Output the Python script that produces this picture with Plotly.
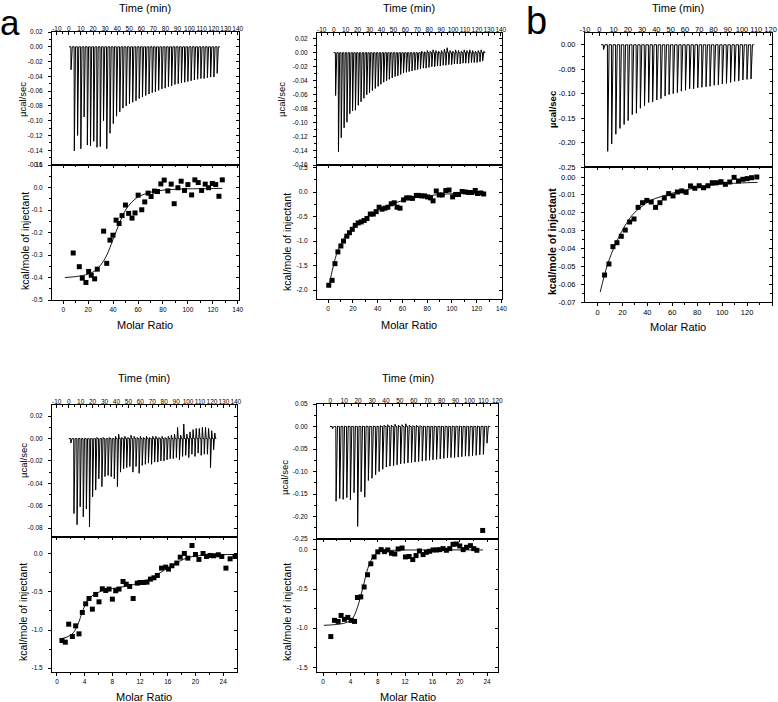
import plotly.graph_objects as go

# ======================= DATA =======================
# ---- panel a1 (top-left) ----
a1_time = [1.6, 4.3, 7.0, 9.7, 12.4, 15.1, 17.7, 20.4, 23.1, 25.8, 28.5, 31.2, 33.9, 36.6, 39.3, 42.0,
           44.6, 47.3, 50.0, 52.7, 55.4, 58.1, 60.8, 63.5, 66.2, 68.9, 71.5, 74.2, 76.9, 79.6, 82.3, 85.0,
           87.7, 90.4, 93.1, 95.8, 98.4, 101.1, 103.8, 106.5, 109.2, 111.9, 114.6, 117.3, 120.0, 122.7]
a1_peak = [-0.031, -0.141, -0.120, -0.138, -0.095, -0.133, -0.134, -0.128, -0.136, -0.135, -0.100, -0.138,
           -0.117, -0.104, -0.094, -0.088, -0.083, -0.080, -0.077, -0.075, -0.073, -0.070, -0.068, -0.066,
           -0.064, -0.062, -0.061, -0.059, -0.057, -0.056, -0.054, -0.053, -0.051, -0.050, -0.049, -0.048,
           -0.047, -0.046, -0.045, -0.044, -0.043, -0.043, -0.042, -0.041, -0.041, -0.036]
a1_ratio = [8.0, 12.9, 15.3, 18.2, 20.4, 22.5, 25.2, 27.3, 32.4, 34.9, 37.5, 39.9, 42.4, 44.8, 47.2, 49.9,
            52.5, 55.2, 57.6, 60.1, 63.0, 65.4, 68.1, 70.5, 73.2, 75.6, 78.3, 81.0, 83.9, 86.6, 89.0, 92.0,
            94.6, 97.3, 100.0, 103.0, 105.6, 108.3, 111.0, 113.9, 116.6, 119.6, 122.3, 124.9, 127.6]
a1_heat = [-0.291, -0.352, -0.403, -0.422, -0.373, -0.390, -0.406, -0.363, -0.194, -0.337, -0.234, -0.212,
           -0.145, -0.160, -0.125, -0.078, -0.115, -0.136, -0.113, -0.034, -0.099, -0.064, -0.025, -0.040,
           -0.016, -0.018, 0.016, 0.033, -0.015, 0.015, -0.072, -0.001, 0.028, -0.013, 0.013, -0.033,
           0.034, 0.022, -0.013, 0.015, -0.001, 0.018, 0.013, -0.039, 0.034]
a1_fit_ratio = [1.3, 10, 20, 25, 30, 35, 40, 45, 50, 55, 60, 65, 70, 80, 90, 100, 115, 127.6]
a1_fit_heat = [-0.400, -0.396, -0.385, -0.372, -0.345, -0.300, -0.230, -0.160, -0.100, -0.065, -0.042,
               -0.030, -0.021, -0.012, -0.008, -0.006, -0.005, -0.004]

# ---- panel a2 (top-middle) ----
a2_time = [1.4, 3.8, 6.1, 8.5, 10.9, 13.3, 15.6, 18.0, 20.4, 22.7, 25.1, 27.5, 29.8, 32.2, 34.6, 37.0,
           39.3, 41.7, 44.1, 46.4, 48.8, 51.2, 53.5, 55.9, 58.3, 60.7, 63.0, 65.4, 67.8, 70.1, 72.5, 74.9,
           77.2, 79.6, 82.0, 84.4, 86.7, 89.1, 91.5, 93.8, 96.2, 98.6, 100.9, 103.3, 105.7, 108.1, 110.4,
           112.8, 115.2, 117.5, 119.9, 122.3, 124.6]
a2_peak = [-0.061, -0.141, -0.121, -0.107, -0.099, -0.087, -0.083, -0.082, -0.075, -0.070, -0.065, -0.060,
           -0.057, -0.054, -0.051, -0.048, -0.045, -0.042, -0.040, -0.038, -0.036, -0.034, -0.033, -0.031,
           -0.029, -0.028, -0.027, -0.026, -0.025, -0.024, -0.023, -0.022, -0.022, -0.021, -0.020, -0.020,
           -0.019, -0.019, -0.018, -0.018, -0.017, -0.017, -0.016, -0.016, -0.016, -0.015, -0.015, -0.015,
           -0.014, -0.014, -0.014, -0.013, -0.012]
a2_rise = [0.0, 0.0, 0.0, 0.0, 0.0, 0.0, 0.0, 0.0, 0.0, 0.0, 0.0, 0.0, 0.0, 0.0, 0.0, 0.0, 0.0, 0.0, 0.0,
           0.0, 0.0, 0.0, 0.0, 0.0, 0.0, 0.0, 0.0, 0.0, 0.0, 0.0,
           0.002, 0.001, 0.003, 0.002, 0.004, 0.003, 0.002, 0.003, 0.005, 0.007, 0.003,
           0.002, 0.004, 0.003, 0.002, 0.004, 0.003, 0.004, 0.003, 0.002, 0.003, 0.004, 0.002]
a2_ratio = [0.5, 3.2, 5.5, 7.9, 10.3, 12.4, 15.1, 17.2, 19.5, 21.9, 24.3, 26.7, 29.1, 31.4, 34.1, 36.5,
            38.8, 41.2, 43.6, 46.0, 48.3, 51.0, 53.4, 55.7, 58.1, 61.0, 63.4, 65.8, 68.1, 71.3, 73.2, 75.5,
            77.9, 80.3, 82.7, 84.8, 87.4, 89.8, 92.2, 95.1, 97.7, 100.6, 103.0, 105.4, 108.3, 110.9, 113.6,
            116.2, 118.9, 120.7, 123.4, 125.7]
a2_heat = [-1.90, -1.80, -1.46, -1.22, -1.10, -1.00, -0.90, -0.83, -0.76, -0.68, -0.63, -0.61, -0.58,
           -0.54, -0.45, -0.45, -0.40, -0.31, -0.35, -0.33, -0.31, -0.24, -0.22, -0.31, -0.33, -0.16,
           -0.12, -0.12, -0.13, -0.07, -0.07, -0.08, -0.08, -0.10, -0.12, -0.18, 0.02, -0.06, -0.06,
           0.03, 0.04, -0.10, -0.05, -0.05, 0.01, 0.00, -0.01, -0.01, 0.03, -0.03, -0.02, -0.04]
a2_fit_ratio = [0.5, 4, 7.9, 14.5, 22.5, 30.4, 38.3, 48.9, 59.4, 70, 83.2, 96.4, 109.6, 125.7]
a2_fit_heat = [-1.93, -1.53, -1.19, -0.88, -0.68, -0.52, -0.39, -0.27, -0.18, -0.12, -0.07, -0.04,
               -0.03, -0.02]

# ---- panel b (top-right) ----
b_time = [2.8, 5.7, 8.5, 11.4, 14.3, 17.2, 20.0, 22.9, 25.8, 28.6, 31.5, 34.4, 37.2, 40.1, 43.0, 45.9,
          48.7, 51.6, 54.5, 57.3, 60.2, 63.1, 65.9, 68.8, 71.7, 74.6, 77.4, 80.3, 83.2, 86.0, 88.9, 91.8,
          94.6, 97.5, 100.4, 103.3, 106.1]
b_peak = [-0.010, -0.218, -0.203, -0.183, -0.171, -0.163, -0.155, -0.143, -0.140, -0.130, -0.125, -0.118,
          -0.117, -0.113, -0.110, -0.105, -0.102, -0.100, -0.098, -0.095, -0.093, -0.090, -0.090, -0.088,
          -0.087, -0.086, -0.085, -0.083, -0.082, -0.080, -0.079, -0.077, -0.075, -0.074, -0.072, -0.071,
          -0.070]
b_ratio = [5.7, 9.2, 12.4, 15.6, 19.1, 22.3, 25.8, 29.3, 32.6, 36.1, 39.6, 43.1, 46.6, 50.1, 53.6, 57.1,
           60.6, 64.1, 67.6, 71.1, 74.6, 78.1, 81.6, 85.1, 88.6, 92.1, 95.6, 99.1, 102.6, 106.1, 109.6,
           113.1, 116.6, 120.1, 123.6, 127.8]
b_heat = [-0.0549, -0.0487, -0.0390, -0.0368, -0.0332, -0.0297, -0.0252, -0.0235, -0.0170, -0.0144,
          -0.0131, -0.0140, -0.0170, -0.0144, -0.0118, -0.0093, -0.0106, -0.0084, -0.0078, -0.0086,
          -0.0050, -0.0063, -0.0049, -0.0060, -0.0049, -0.0032, -0.0032, -0.0026, -0.0041, -0.0028,
          -0.0002, -0.0022, -0.0013, -0.0009, -0.0004, 0.0000]
b_fit_ratio = [2.2, 8.1, 14.8, 21.5, 28.3, 35, 43, 51, 64.6, 78, 91.5, 105, 128.4]
b_fit_heat = [-0.0644, -0.049, -0.037, -0.028, -0.021, -0.0168, -0.013, -0.011, -0.0082, -0.0062,
              -0.0047, -0.0037, -0.003]

# ---- panel a3 (bottom-left) ----
a3_time = [1.6, 4.2, 6.8, 9.4, 12.0, 14.6, 17.2, 19.8, 22.4, 25.0, 27.6, 30.2, 32.8, 35.4, 38.0, 40.6,
           43.2, 45.8, 48.4, 51.0, 53.6, 56.2, 58.8, 61.4, 64.0, 66.6, 69.2, 71.8, 74.4, 77.0, 79.6, 82.2,
           84.8, 87.4, 90.0, 92.6, 95.2, 97.8, 100.4, 103.0, 105.6, 108.2, 110.8, 113.4, 116.0, 118.6, 121.2]
a3_peak = [-0.004, -0.067, -0.077, -0.061, -0.070, -0.063, -0.079, -0.052, -0.046, -0.036, -0.043, -0.034,
           -0.033, -0.034, -0.036, -0.043, -0.030, -0.027, -0.026, -0.025, -0.030, -0.025, -0.031, -0.024,
           -0.023, -0.022, -0.023, -0.021, -0.021, -0.020, -0.020, -0.019, -0.018, -0.018, -0.017, -0.019,
           -0.016, -0.015, -0.017, -0.014, -0.016, -0.013, -0.015, -0.014, -0.014, -0.026, -0.010]
a3_rise = [0.0, 0.0, 0.0, 0.0, 0.0, 0.0, 0.0, 0.0, 0.001, 0.0, 0.001, 0.0, 0.001, 0.0, 0.002, 0.004,
           0.001, 0.002, 0.001, 0.003, 0.002, 0.001, 0.002, 0.001, 0.002, 0.001, 0.002, 0.002, 0.001,
           0.002, 0.001, 0.002, 0.003, 0.004, 0.010, 0.003, 0.013, 0.004, 0.006, 0.008, 0.009, 0.009,
           0.010, 0.010, 0.009, 0.007, 0.005]
a3_ratio = [0.72, 1.20, 1.69, 2.22, 2.70, 3.18, 3.66, 4.14, 4.63, 5.11, 5.59, 6.07, 6.55, 7.04, 7.52, 8.00,
            8.48, 8.96, 9.54, 10.0, 10.5, 11.0, 11.6, 12.0, 12.5, 13.0, 13.5, 14.0, 14.5, 15.1, 15.7, 16.1,
            16.6, 17.3, 17.8, 18.4, 18.9, 19.5, 20.0, 20.5, 21.1, 21.6, 22.1, 22.6, 23.3, 23.8, 24.4, 25.0,
            25.7]
a3_heat = [-1.137, -1.159, -0.923, -1.084, -0.945, -1.050, -0.770, -0.656, -0.586, -0.726, -0.533, -0.630,
           -0.459, -0.481, -0.463, -0.595, -0.485, -0.463, -0.363, -0.398, -0.428, -0.586, -0.385, -0.376,
           -0.376, -0.372, -0.332, -0.315, -0.284, -0.188, -0.175, -0.201, -0.157, -0.122, -0.044, 0.004,
           -0.057, 0.109, -0.009, -0.074, 0.004, -0.035, -0.022, -0.026, -0.013, -0.035, -0.188, -0.066,
           -0.035]
a3_fit_ratio = [0.4, 2.1, 3.0, 3.76, 4.5, 5.7, 7.1, 9.1, 11.0, 12.9, 14.8, 16.8, 18.7, 20.6, 22.6, 25.7]
a3_fit_heat = [-1.12, -1.06, -0.93, -0.735, -0.60, -0.516, -0.472, -0.44, -0.405, -0.35, -0.254, -0.144,
               -0.057, -0.022, -0.013, -0.009]

# ---- panel a4 (bottom-middle) ----
a4_time = [1.4, 4.0, 6.6, 9.1, 11.7, 14.3, 16.9, 19.5, 22.0, 24.6, 27.2, 29.8, 32.4, 34.9, 37.5, 40.1,
           42.7, 45.3, 47.8, 50.4, 53.0, 55.6, 58.2, 60.7, 63.3, 65.9, 68.5, 71.1, 73.6, 76.2, 78.8, 81.4,
           84.0, 86.5, 89.1, 91.7, 94.3, 96.9, 99.4, 102.0, 104.6, 107.2, 109.8, 112.4]
a4_peak = [-0.005, -0.166, -0.160, -0.162, -0.158, -0.163, -0.147, -0.222, -0.145, -0.157, -0.120, -0.115,
           -0.107, -0.100, -0.095, -0.090, -0.088, -0.087, -0.085, -0.083, -0.082, -0.081, -0.080, -0.079,
           -0.078, -0.077, -0.076, -0.075, -0.074, -0.073, -0.072, -0.071, -0.070, -0.069, -0.069, -0.068,
           -0.067, -0.066, -0.066, -0.065, -0.064, -0.063, -0.062, -0.037]
a4_rise = [0.0, 0.001, 0.001, 0.001, 0.001, 0.001, 0.001, 0.001, 0.001, 0.001, 0.001, 0.001, 0.001, 0.002,
           0.003, 0.004, 0.003, 0.005, 0.003, 0.004, 0.006, 0.003, 0.002, 0.003, 0.002, 0.001, 0.001,
           0.001, 0.001, 0.001, 0.001, 0.001, 0.001, 0.001, 0.001, 0.001, 0.001, 0.001, 0.001, 0.001,
           0.001, 0.001, 0.001, 0.001]
a4_ratio = [1.12, 1.66, 2.2, 2.63, 3.12, 3.61, 4.10, 4.59, 5.02, 5.51, 6.0, 6.49, 6.98, 7.46, 8.0, 8.49,
            8.98, 9.46, 10.0, 10.49, 10.98, 11.56, 12.05, 12.59, 13.12, 13.6, 14.1, 14.63, 15.12, 15.6,
            16.1, 16.6, 17.07, 17.56, 18.05, 18.54, 19.02, 19.5, 20.0, 20.5, 21.0, 21.56, 22.05, 22.5]
a4_heat = [-1.107, -0.90, -0.913, -0.837, -0.887, -0.862, -0.90, -0.913, -0.608, -0.60, -0.473, -0.317,
           -0.177, -0.089, -0.025, 0.004, -0.021, 0.0, -0.042, -0.051, 0.013, 0.025, -0.089, -0.084, -0.123,
           -0.072, -0.013, -0.059, -0.030, -0.017, 0.0, 0.0, 0.004, 0.017, -0.004, 0.017, 0.072, 0.076,
           0.051, 0.004, 0.034, 0.055, 0.017, -0.004]
a4_fit_ratio = [0.1, 3.0, 4.2, 5.0, 5.5, 6.0, 6.4, 7.0, 7.7, 8.4, 10.3, 15.2, 23.4]
a4_fit_heat = [-0.963, -0.938, -0.887, -0.74, -0.59, -0.42, -0.275, -0.135, -0.05, -0.017, -0.004, 0.0, 0.0]
a4_stray_time = [109.5]
a4_stray_value = [-0.231]

# ---- tick labels ----
time_ticks_140 = [-10, 0, 10, 20, 30, 40, 50, 60, 70, 80, 90, 100, 110, 120, 130, 140]
time_ticks_120 = [-10, 0, 10, 20, 30, 40, 50, 60, 70, 80, 90, 100, 110, 120]
ratio_ticks_140 = [0, 20, 40, 60, 80, 100, 120, 140]
ratio_ticks_24 = [0, 4, 8, 12, 16, 20, 24]
a1_raw_yticks = [0.02, 0.00, -0.02, -0.04, -0.06, -0.08, -0.10, -0.12, -0.14, -0.16]
a1_heat_yticks = [0.1, 0.0, -0.1, -0.2, -0.3, -0.4, -0.5]
a2_raw_yticks = [0.02, 0.00, -0.02, -0.04, -0.06, -0.08, -0.10, -0.12, -0.14, -0.16]
a2_heat_yticks = [0.5, 0.0, -0.5, -1.0, -1.5, -2.0]
b_raw_yticks = [0.00, -0.05, -0.10, -0.15, -0.20, -0.25]
b_heat_yticks = [0.00, -0.01, -0.02, -0.03, -0.04, -0.05, -0.06, -0.07]
a3_raw_yticks = [0.02, 0.00, -0.02, -0.04, -0.06, -0.08]
a3_heat_yticks = [0.0, -0.5, -1.0, -1.5]
a4_raw_yticks = [0.05, 0.00, -0.05, -0.10, -0.15, -0.20, -0.25]
a4_heat_yticks = [0.0, -0.5, -1.0, -1.5]

# ======================= FIGURE =======================
W, H = 778, 702
FONT = "Liberation Sans, Arial, sans-serif"


def fx(p):
    return p / W


def fy(p):
    return 1 - p / H


def ticktext(vals, nd):
    return [f"{v:.{nd}f}" for v in vals]


def minor_between(vals):
    s = sorted(vals)
    return [(s[i] + s[i + 1]) / 2 for i in range(len(s) - 1)]


def thermogram(times, peaks, rises=None):
    xs = [times[0] - 1.5]
    ys = [0.0]
    for i, (t, p) in enumerate(zip(times, peaks)):
        r = rises[i] if rises else 0.0
        xs += [t, t + 0.2, t + 0.6, t + 1.2, t + 1.8]
        ys += [0.0, p, 0.4 * p, r, 0.0]
    xs.append(times[-1] + 2.5)
    ys.append(0.0)
    return xs, ys


panels = [
    dict(px=(52, 239), top=(32, 165), bot=(165, 300),
         time=a1_time, peak=a1_peak, rise=None,
         ratio=a1_ratio, heat=a1_heat, fr=a1_fit_ratio, fh=a1_fit_heat,
         trange=[-14, 141], tticks=time_ticks_140,
         rrange=[-9, 141], rticks=ratio_ticks_140, rminor=10,
         yraw=[-0.16, 0.02], yrawt=a1_raw_yticks, yrawd=2,
         yheat=[-0.5, 0.1], yheatt=a1_heat_yticks, yheatd=1,
         tfont=6.5, bold=False,
         ttl=(145, 8), mr=(145, 325), ylab1=(23, 100), ylab2=(25, 241)),
    dict(px=(317, 502), top=(33, 165), bot=(165, 299),
         time=a2_time, peak=a2_peak, rise=a2_rise,
         ratio=a2_ratio, heat=a2_heat, fr=a2_fit_ratio, fh=a2_fit_heat,
         trange=[-14, 141], tticks=time_ticks_140,
         rrange=[-9, 140.5], rticks=ratio_ticks_140, rminor=10,
         yraw=[-0.16, 0.028], yrawt=a2_raw_yticks, yrawd=2,
         yheat=[-2.18, 0.55], yheatt=a2_heat_yticks, yheatd=1,
         tfont=6.5, bold=False,
         ttl=(409, 8), mr=(409, 325), ylab1=(282, 100), ylab2=(287, 242)),
    dict(px=(585, 772), top=(33, 167), bot=(167, 302),
         time=b_time, peak=b_peak, rise=None,
         ratio=b_ratio, heat=b_heat, fr=b_fit_ratio, fh=b_fit_heat,
         trange=[-10, 121], tticks=time_ticks_120,
         rrange=[-10, 140], rticks=ratio_ticks_140, rminor=10,
         yraw=[-0.25, 0.024], yrawt=b_raw_yticks, yrawd=2,
         yheat=[-0.07, 0.0056], yheatt=b_heat_yticks, yheatd=2,
         tfont=7.5, bold=True,
         ttl=(678, 8), mr=(678, 327), ylab1=(553, 110), ylab2=(552, 242)),
    dict(px=(52, 237), top=(405, 537), bot=(537, 672),
         time=a3_time, peak=a3_peak, rise=a3_rise,
         ratio=a3_ratio, heat=a3_heat, fr=a3_fit_ratio, fh=a3_fit_heat,
         trange=[-14, 141], tticks=time_ticks_140,
         rrange=[-0.72, 26.0], rticks=ratio_ticks_24, rminor=2,
         yraw=[-0.088, 0.03], yrawt=a3_raw_yticks, yrawd=2,
         yheat=[-1.55, 0.22], yheatt=a3_heat_yticks, yheatd=1,
         tfont=6.5, bold=False,
         ttl=(144, 378), mr=(144, 697), ylab1=(23, 461), ylab2=(23, 612)),
    dict(px=(317, 498), top=(404, 539), bot=(539, 672),
         time=a4_time, peak=a4_peak, rise=a4_rise,
         ratio=a4_ratio, heat=a4_heat, fr=a4_fit_ratio, fh=a4_fit_heat,
         trange=[-9.5, 120.5], tticks=time_ticks_120,
         rrange=[-0.9, 25.6], rticks=ratio_ticks_24, rminor=2,
         yraw=[-0.25, 0.05], yrawt=a4_raw_yticks, yrawd=2,
         yheat=[-1.56, 0.14], yheatt=a4_heat_yticks, yheatd=1,
         tfont=6.5, bold=False,
         ttl=(408, 378), mr=(408, 697), ylab1=(285, 478), ylab2=(287, 612)),
]

fig = go.Figure()
layout = {}
annotations = []


def aid(letter, k):
    return letter if k == 1 else f"{letter}{k}"


def akey(letter, k):
    return f"{letter}axis" if k == 1 else f"{letter}axis{k}"


LINE = dict(showline=True, linecolor="black", linewidth=1, showgrid=False, zeroline=False)

for pi, p in enumerate(panels):
    kt = 2 * pi + 1
    kb = 2 * pi + 2
    dom_x = [fx(p["px"][0]), fx(p["px"][1])]
    tf = dict(family=FONT, size=p["tfont"], color="black")

    # ---------- raw thermogram (top) ----------
    xs, ys = thermogram(p["time"], p["peak"], p["rise"])
    fig.add_trace(go.Scatter(x=xs, y=ys, mode="lines", line=dict(color="black", width=1.0),
                             xaxis=aid("x", kt), yaxis=aid("y", kt), showlegend=False, hoverinfo="skip"))
    if pi == 4:
        fig.add_trace(go.Scatter(x=a4_stray_time, y=a4_stray_value, mode="markers",
                                 marker=dict(symbol="square", size=5, color="black"),
                                 xaxis=aid("x", kt), yaxis=aid("y", kt), showlegend=False, hoverinfo="skip"))
    tt = p["tticks"]
    layout[akey("x", kt)] = dict(
        domain=dom_x, anchor=aid("y", kt), range=p["trange"], side="top",
        tickmode="array", tickvals=tt, ticktext=[str(v) for v in tt], tickangle=0,
        ticks="inside", ticklen=3, tickcolor="black", tickfont=tf, mirror=True, ticklabelstandoff=-3,
        minor=dict(tickmode="array", tickvals=minor_between(tt), ticks="inside", ticklen=2, tickcolor="black"),
        **LINE)
    yt = p["yrawt"]
    ymin_raw = minor_between(yt)
    layout[akey("y", kt)] = dict(
        domain=[fy(p["top"][1]), fy(p["top"][0])], anchor=aid("x", kt), range=p["yraw"],
        tickmode="array", tickvals=yt, ticktext=ticktext(yt, p["yrawd"]),
        ticks="outside", ticklen=3, tickcolor="black", tickfont=tf, mirror=True, ticklabelstandoff=4,
        minor=dict(tickmode="array", tickvals=ymin_raw, ticks="outside", ticklen=2, tickcolor="black"),
        **LINE)
    layout[akey("y", 10 + kt)] = dict(
        overlaying=aid("y", kt), anchor=aid("x", kt), side="right", range=p["yraw"],
        tickmode="array", tickvals=yt, showticklabels=False, ticks="inside", ticklen=3, tickcolor="black",
        minor=dict(tickmode="array", tickvals=ymin_raw, ticks="inside", ticklen=2, tickcolor="black"),
        showgrid=False, zeroline=False, showline=False)
    fig.add_trace(go.Scatter(x=[None], y=[None], xaxis=aid("x", kt), yaxis=aid("y", 10 + kt),
                             showlegend=False, hoverinfo="skip"))

    # ---------- integrated heats (bottom) ----------
    fig.add_trace(go.Scatter(x=p["fr"], y=p["fh"], mode="lines",
                             line=dict(color="black", width=0.9, shape="spline"),
                             xaxis=aid("x", kb), yaxis=aid("y", kb), showlegend=False, hoverinfo="skip"))
    fig.add_trace(go.Scatter(x=p["ratio"], y=p["heat"], mode="markers",
                             marker=dict(symbol="square", size=5, color="black"),
                             xaxis=aid("x", kb), yaxis=aid("y", kb), showlegend=False, hoverinfo="skip"))
    rt = p["rticks"]
    rmin = [v + p["rminor"] for v in rt[:-1]]
    layout[akey("x", kb)] = dict(
        domain=dom_x, anchor=aid("y", kb), range=p["rrange"],
        tickmode="array", tickvals=rt, ticktext=[str(v) for v in rt], tickangle=0,
        ticks="outside", ticklen=3, tickcolor="black", tickfont=tf, mirror=True,
        minor=dict(tickmode="array", tickvals=rmin, ticks="outside", ticklen=2, tickcolor="black"),
        **LINE)
    layout[akey("x", 10 + kb)] = dict(
        overlaying=aid("x", kb), anchor=aid("y", kb), side="top", range=p["rrange"],
        tickmode="array", tickvals=rt, showticklabels=False, ticks="inside", ticklen=3, tickcolor="black",
        minor=dict(tickmode="array", tickvals=rmin, ticks="inside", ticklen=2, tickcolor="black"),
        showgrid=False, zeroline=False, showline=False)
    fig.add_trace(go.Scatter(x=[None], y=[None], xaxis=aid("x", 10 + kb), yaxis=aid("y", kb),
                             showlegend=False, hoverinfo="skip"))
    yh = p["yheatt"]
    ymin_h = minor_between(yh)
    layout[akey("y", kb)] = dict(
        domain=[fy(p["bot"][1]), fy(p["bot"][0])], anchor=aid("x", kb), range=p["yheat"],
        tickmode="array", tickvals=yh, ticktext=ticktext(yh, p["yheatd"]),
        ticks="outside", ticklen=3, tickcolor="black", tickfont=tf, mirror=True, ticklabelstandoff=4,
        minor=dict(tickmode="array", tickvals=ymin_h, ticks="outside", ticklen=2, tickcolor="black"),
        **LINE)
    layout[akey("y", 10 + kb)] = dict(
        overlaying=aid("y", kb), anchor=aid("x", kb), side="right", range=p["yheat"],
        tickmode="array", tickvals=yh, showticklabels=False, ticks="inside", ticklen=3, tickcolor="black",
        minor=dict(tickmode="array", tickvals=ymin_h, ticks="inside", ticklen=2, tickcolor="black"),
        showgrid=False, zeroline=False, showline=False)
    fig.add_trace(go.Scatter(x=[None], y=[None], xaxis=aid("x", kb), yaxis=aid("y", 10 + kb),
                             showlegend=False, hoverinfo="skip"))

    # ---------- titles ----------
    wt = "bold" if p["bold"] else "normal"
    annotations.append(dict(text="Time (min)", x=fx(p["ttl"][0]), y=fy(p["ttl"][1]), xref="paper", yref="paper",
                            showarrow=False, xanchor="center", yanchor="middle",
                            font=dict(family=FONT, size=11, color="black")))
    annotations.append(dict(text="Molar Ratio", x=fx(p["mr"][0]), y=fy(p["mr"][1]), xref="paper", yref="paper",
                            showarrow=False, xanchor="center", yanchor="middle",
                            font=dict(family=FONT, size=11, color="black")))
    annotations.append(dict(text="µcal/sec", x=fx(p["ylab1"][0]), y=fy(p["ylab1"][1]), xref="paper",
                            yref="paper", showarrow=False, xanchor="center", yanchor="middle", textangle=-90,
                            font=dict(family=FONT, size=9.5, color="black", weight=wt)))
    annotations.append(dict(text="kcal/mole of injectant", x=fx(p["ylab2"][0]), y=fy(p["ylab2"][1]),
                            xref="paper", yref="paper", showarrow=False, xanchor="center", yanchor="middle",
                            textangle=-90, font=dict(family=FONT, size=10.5, color="black", weight=wt)))

annotations.append(dict(text="a", x=fx(-2), y=fy(23), xref="paper", yref="paper", showarrow=False,
                        xanchor="left", yanchor="middle", font=dict(family=FONT, size=35, color="black")))
annotations.append(dict(text="b", x=fx(524), y=fy(21), xref="paper", yref="paper", showarrow=False,
                        xanchor="left", yanchor="middle", font=dict(family=FONT, size=38, color="black")))

fig.update_layout(template="none", width=W, height=H, margin=dict(l=0, r=0, t=0, b=0),
                  paper_bgcolor="white", plot_bgcolor="white", showlegend=False,
                  font=dict(family=FONT, color="black"), annotations=annotations, **layout)

fig.write_html("out.html", config={"displayModeBar": False},
               post_script="document.body.style.margin='0';document.body.style.overflow='hidden';")
